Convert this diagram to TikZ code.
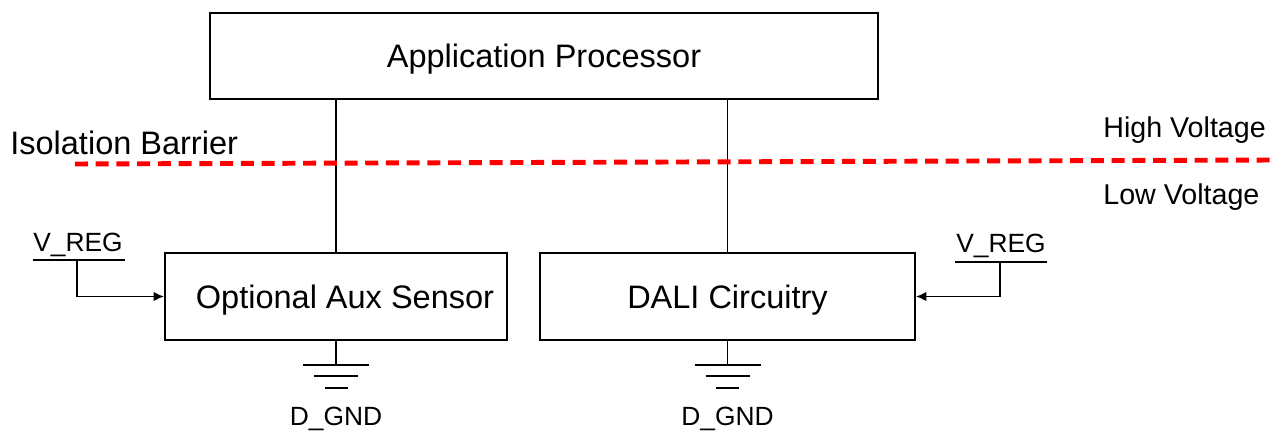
\documentclass[tikz,border=0pt]{standalone}
\usepackage{fontspec}
\setmainfont{Liberation Sans}
\usetikzlibrary{arrows.meta,positioning}
\definecolor{barrierred}{HTML}{FF0000}
\tikzset{
  blk/.style={draw=black,line width=1.1pt,inner sep=0pt,text height=13.2pt,text depth=0pt,font=\fontsize{18.5}{22}\selectfont},
  lbl/.style={inner sep=0pt,anchor=base,font=\fontsize{15}{18}\selectfont},
  zone/.style={inner sep=0pt,anchor=base west,font=\fontsize{16.3}{20}\selectfont},
  wire/.style={line width=1.1pt},
  feed/.style={wire,-{Latex[length=6pt,width=5.6pt]}},
  barrier/.style={draw=barrierred,line width=2.8pt,dash pattern=on 7.4pt off 4.4pt},
}

\begin{document}
\begin{tikzpicture}[x=0.02cm,y=-0.02cm]
\useasboundingbox (0,0) rectangle (1276,432);
% blocks
\node (ap) [blk,minimum width=13.36cm,minimum height=1.72cm] at (544,56) {Application Processor};
\node (aux) [blk,minimum width=6.84cm,minimum height=1.74cm] at (336,296.5) {\hspace*{0.36cm}Optional Aux Sensor};
\node (dali) [blk,minimum width=7.5cm,minimum height=1.74cm] at (727.5,296.5) {DALI Circuitry};
%
\draw[wire] (aux.north) -- (aux.north |- ap.south);
\draw[wire] (dali.north) -- (dali.north |- ap.south);
%
% isolation barrier
\coordinate (bl) at (75,164);
\coordinate (br) at (1276,160);
\draw[barrier] (bl) -- (br);
\node (iso) [inner sep=0pt,anchor=base west,font=\fontsize{18.5}{22}\selectfont] at (10,155) {Isolation Barrier};
\node (hv) [zone] at (1103,138) {High Voltage};
\node (lv) [zone] at (1103,205) {Low Voltage};
%
% regulator inputs
\node (vregl) [lbl] at (78,252) {V\_REG};
\coordinate (vla) at (33,260);
\coordinate (vlb) at (125,260);
\coordinate (vlt) at (77,260);
\draw[wire] (vla) -- (vlb);
\draw[feed] (vlt) |- (aux.west);
%
\node (vregr) [lbl] at (1001,253) {V\_REG};
\coordinate (vra) at (955,262);
\coordinate (vrb) at (1047,262);
\coordinate (vrt) at (1000,262);
\draw[wire] (vra) -- (vrb);
\draw[feed] (vrt) |- (dali.east);
%
% grounds
\foreach \b in {aux,dali} {
  \draw[wire] (\b.south) -- ++(0,24) coordinate (\b g);
  \draw[wire] (\b g) ++(-33,0) -- ++(66,0);
  \draw[wire] (\b g) ++(-22,11) -- ++(44,0);
  \draw[wire] (\b g) ++(-11.5,23) -- ++(23,0);
  \path (\b g) ++(0,61) node (\b gl) [lbl] {D\_GND};
}
\end{tikzpicture}
\end{document}
